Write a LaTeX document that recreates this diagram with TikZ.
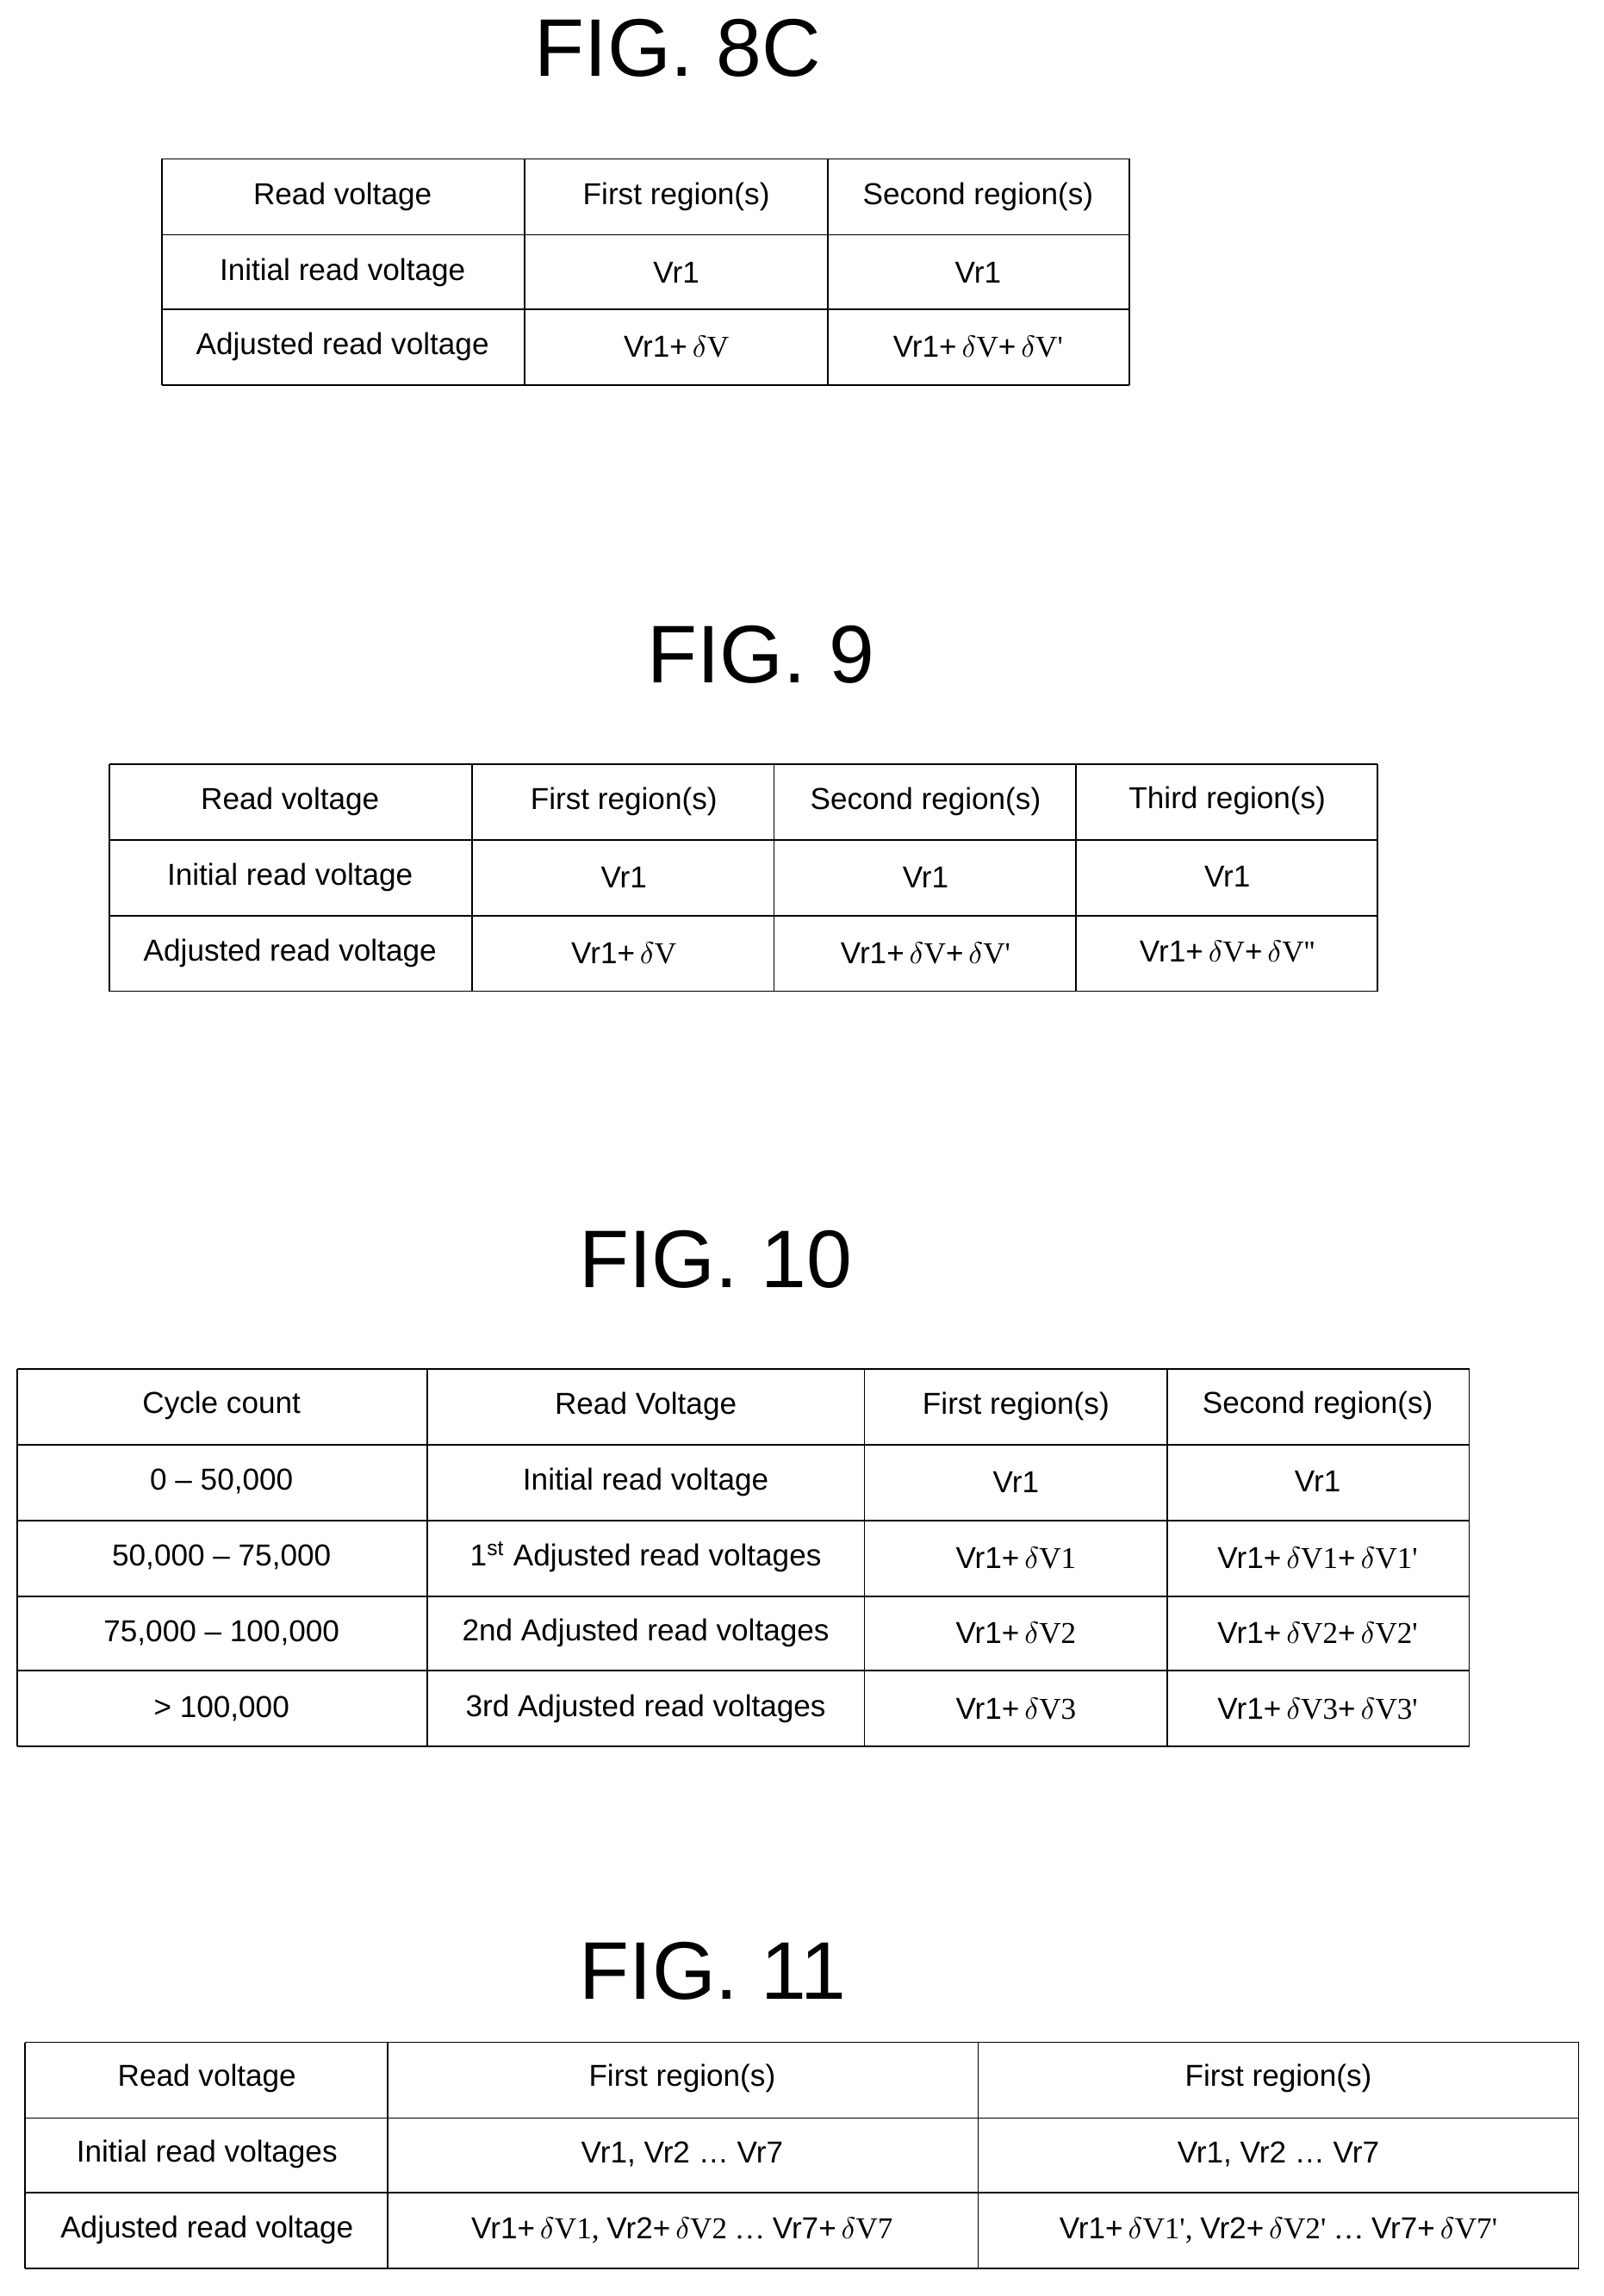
\documentclass[tikz,border=0pt]{standalone}
\usepackage{fontspec}
\setmainfont{Liberation Sans}
\newfontfamily\tms{Liberation Serif}
\usetikzlibrary{positioning}
\newcommand{\dV}{{\tms\,$\delta$V}}
\begin{document}
\begin{tikzpicture}[x=0.1692mm,y=-0.1692mm,thin]
\tikzset{figtitle/.style={font=\fontsize{27}{30}\selectfont},
  cell/.style={font=\fontsize{10}{12}\selectfont,inner sep=0pt},
  grid/.style={draw=black,line width=0.5pt}}
\useasboundingbox (0,0) rectangle (1100,1575);

% FIG. 8C
\node[figtitle] (t8c) at (465,33) {FIG. 8C};
\foreach \y in {109,161,212,264} \draw[grid] (111,\y) -- (775,\y);
\foreach \x in {111,360,568,775} \draw[grid] (\x,109) -- (\x,264);
\node[cell] (a11) at (235,135) {Read voltage};
\node[cell] (a12) at (464,135) {First region(s)};
\node[cell] (a13) at (671,135) {Second region(s)};
\node[cell] (a21) at (235,187) {Initial read voltage};
\node[cell] (a22) at (464,187) {Vr1};
\node[cell] (a23) at (671,187) {Vr1};
\node[cell] (a31) at (235,238) {Adjusted read voltage};
\node[cell] (a32) at (464,238) {Vr1+\dV};
\node[cell] (a33) at (671,238) {Vr1+\dV+\dV{\tms'}};

% FIG. 9
\node[figtitle] (t9) at (522,449) {FIG. 9};
\foreach \y in {524,576,628,680} \draw[grid] (75,\y) -- (945,\y);
\foreach \x in {75,324,531,738,945} \draw[grid] (\x,524) -- (\x,680);
\node[cell] (b11) at (199,550) {Read voltage};
\node[cell] (b12) at (428,550) {First region(s)};
\node[cell] (b13) at (635,550) {Second region(s)};
\node[cell] (b14) at (842,549) {Third region(s)};
\node[cell] (b21) at (199,602) {Initial read voltage};
\node[cell] (b22) at (428,602) {Vr1};
\node[cell] (b23) at (635,602) {Vr1};
\node[cell] (b24) at (842,601) {Vr1};
\node[cell] (b31) at (199,654) {Adjusted read voltage};
\node[cell] (b32) at (428,654) {Vr1+\dV};
\node[cell] (b33) at (635,654) {Vr1+\dV+\dV{\tms'}};
\node[cell] (b34) at (842,653) {Vr1+\dV+\dV{\tms''}};

% FIG. 10
\node[figtitle] (t10) at (491,864) {FIG. 10};
\foreach \y in {939,991,1043,1095,1146,1198} \draw[grid] (12,\y) -- (1008,\y);
\foreach \x in {12,293,593,801,1008} \draw[grid] (\x,939) -- (\x,1198);
\node[cell] (c11) at (152,964) {Cycle count};
\node[cell] (c12) at (443,965) {Read Voltage};
\node[cell] (c13) at (697,965) {First region(s)};
\node[cell] (c14) at (904,964) {Second region(s)};
\node[cell] (c21) at (152,1016) {0 -- 50,000};
\node[cell] (c22) at (443,1017) {Initial read voltage};
\node[cell] (c23) at (697,1017) {Vr1};
\node[cell] (c24) at (904,1016) {Vr1};
\node[cell] (c31) at (152,1068) {50,000 -- 75,000};
\node[cell] (c32) at (443,1068) {1\textsuperscript{st} Adjusted read voltages};
\node[cell] (c33) at (697,1069) {Vr1+\dV{\tms 1}};
\node[cell] (c34) at (904,1069) {Vr1+\dV{\tms 1}+\dV{\tms 1'}};
\node[cell] (c41) at (152,1120) {75,000 -- 100,000};
\node[cell] (c42) at (443,1120) {2nd Adjusted read voltages};
\node[cell] (c43) at (697,1120) {Vr1+\dV{\tms 2}};
\node[cell] (c44) at (904,1120) {Vr1+\dV{\tms 2}+\dV{\tms 2'}};
\node[cell] (c51) at (152,1172) {> 100,000};
\node[cell] (c52) at (443,1172) {3rd Adjusted read voltages};
\node[cell] (c53) at (697,1172) {Vr1+\dV{\tms 3}};
\node[cell] (c54) at (904,1172) {Vr1+\dV{\tms 3}+\dV{\tms 3'}};

% FIG. 11
\node[figtitle] (t11) at (489,1352) {FIG. 11};
\foreach \y in {1401,1453,1504,1556} \draw[grid] (17,\y) -- (1083,\y);
\foreach \x in {17,266,671,1083} \draw[grid] (\x,1401) -- (\x,1556);
\node[cell] (d11) at (142,1426) {Read voltage};
\node[cell] (d12) at (468,1426) {First region(s)};
\node[cell] (d13) at (877,1426) {First region(s)};
\node[cell] (d21) at (142,1478) {Initial read voltages};
\node[cell] (d22) at (468,1478) {Vr1, Vr2 \dots\ Vr7};
\node[cell] (d23) at (877,1478) {Vr1, Vr2 \dots\ Vr7};
\node[cell] (d31) at (142,1530) {Adjusted read voltage};
\node[cell] (d32) at (468,1530) {Vr1+\dV{\tms 1, }Vr2+\dV{\tms 2 \dots\ }Vr7+\dV{\tms 7}};
\node[cell] (d33) at (877,1530) {Vr1+\dV{\tms 1', }Vr2+\dV{\tms 2' \dots\ }Vr7+\dV{\tms 7'}};
\end{tikzpicture}
\end{document}
